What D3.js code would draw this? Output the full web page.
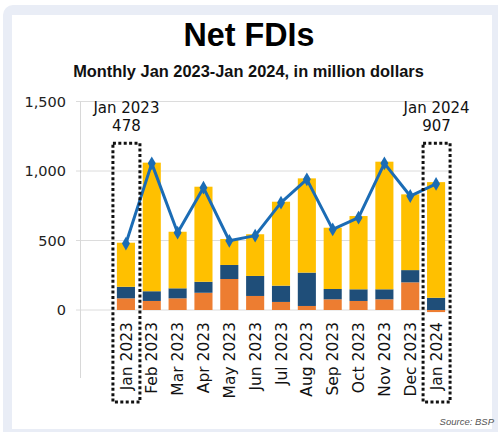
<!DOCTYPE html>
<html>
<head>
<meta charset="utf-8">
<script src="https://cdn.jsdelivr.net/npm/d3@7"></script>
<style>
  html, body { margin: 0; padding: 0; background: #ffffff; }
  svg { display: block; }
</style>
</head>
<body>
<svg id="chart" width="498" height="432"></svg>
<script>
// ---- Data (million US dollars) ----
const months = ["Jan 2023","Feb 2023","Mar 2023","Apr 2023","May 2023","Jun 2023","Jul 2023","Aug 2023","Sep 2023","Oct 2023","Nov 2023","Dec 2023","Jan 2024"];
const equityCapital = [84, 65, 84, 124, 223, 101, 58, 29, 77, 65, 77, 199, -15];
const reinvestedEarnings = [83, 70, 72, 79, 101, 144, 117, 240, 74, 84, 72, 88, 88];
const debtInstruments = [317, 925, 407, 684, 187, 300, 604, 678, 441, 527, 918, 545, 832];
const netFDI = [478, 1055, 556, 880, 498, 535, 772, 940, 580, 664, 1055, 820, 907];
const yTicks = [0, 500, 1000, 1500];
const highlights = [{ month: "Jan 2023", label: "Jan 2023", value: "478" },
                    { month: "Jan 2024", label: "Jan 2024", value: "907" }];

const svg = d3.select("#chart");
const W = 498, H = 432;

// Frame / card
svg.append("rect").attr("x", 3).attr("y", 5).attr("width", W + 10).attr("height", H + 10)
  .attr("rx", 10).attr("fill", "#e9edf6");
svg.append("rect").attr("x", 12).attr("y", 15).attr("width", 480).attr("height", 414)
  .attr("fill", "#ffffff");

// Titles
function fitText(sel, target) {
  const len = sel.node().getComputedTextLength();
  const fs = parseFloat(sel.attr("font-size"));
  sel.attr("font-size", fs * target / len);
}
const title = svg.append("text").attr("x", 249).attr("y", 46).attr("text-anchor", "middle")
  .attr("font-family", "Liberation Sans, Arial, sans-serif").attr("font-weight", "bold")
  .attr("font-size", 30).attr("fill", "#000").text("Net FDIs");
fitText(title, 131);
const sub = svg.append("text").attr("x", 248.5).attr("y", 77).attr("text-anchor", "middle")
  .attr("font-family", "Liberation Sans, Arial, sans-serif").attr("font-weight", "bold")
  .attr("font-size", 15).attr("fill", "#111").text("Monthly Jan 2023-Jan 2024, in million dollars");
fitText(sub, 351);

// Scales
const x = d3.scaleBand().domain(months).range([113, 449]).paddingInner(0.3).paddingOuter(0.15);
const y = d3.scaleLinear().domain([0, 1500]).range([310, 101.5]);

const tickFont = "DejaVu Sans, Verdana, sans-serif";

// Gridlines
svg.append("g").selectAll("line").data(yTicks).join("line")
  .attr("x1", 76).attr("x2", 452)
  .attr("y1", d => y(d)).attr("y2", d => y(d))
  .attr("stroke", "#dcdcdc").attr("stroke-width", 1);
// Axis line
svg.append("line").attr("x1", 80.5).attr("x2", 80.5).attr("y1", y(1500)).attr("y2", 378)
  .attr("stroke", "#d8d8d8").attr("stroke-width", 1);

// Y axis labels
const yAxis = d3.axisLeft(y).tickValues(yTicks).tickFormat(d3.format(",")).tickSize(0).tickPadding(0);
const gy = svg.append("g").attr("transform", "translate(66,0)").call(yAxis);
gy.select(".domain").remove();
gy.selectAll("text").attr("font-family", tickFont).attr("font-size", 14.5).attr("fill", "#222");

// Stacked bars
const rows = months.map((m, i) => ({ month: m, equity: equityCapital[i], reinvest: reinvestedEarnings[i], debt: debtInstruments[i] }));
const keys = ["equity", "reinvest", "debt"];
const colors = { equity: "#ed7d31", reinvest: "#1f4e79", debt: "#ffc000" };
const stack = d3.stack().keys(keys).offset(d3.stackOffsetDiverging)(rows);
svg.append("g").selectAll("g").data(stack).join("g")
  .attr("fill", d => colors[d.key])
  .selectAll("rect").data(d => d).join("rect")
  .attr("x", d => x(d.data.month))
  .attr("width", x.bandwidth())
  .attr("y", d => y(Math.max(d[0], d[1])))
  .attr("height", d => Math.abs(y(d[0]) - y(d[1])));

// Line
const cx = m => x(m) + x.bandwidth() / 2;
const line = d3.line().x((d, i) => cx(months[i])).y(d => y(d));
svg.append("path").datum(netFDI).attr("d", line)
  .attr("fill", "none").attr("stroke", "#1b6cb5").attr("stroke-width", 3).attr("stroke-linejoin", "round");
svg.append("g").selectAll("path").data(netFDI).join("path")
  .attr("d", d3.symbol().type(d3.symbolDiamond).size(55))
  .attr("transform", (d, i) => `translate(${cx(months[i])},${y(d)})`)
  .attr("fill", "#1b6cb5");

// X axis labels (rotated)
svg.append("g").selectAll("text").data(months).join("text")
  .attr("transform", d => `translate(${cx(d)},322) rotate(-90)`)
  .attr("text-anchor", "end").attr("dy", "0.36em")
  .attr("font-family", tickFont).attr("font-size", 15.5).attr("fill", "#111")
  .text(d => d);

// Highlight boxes & annotations
highlights.forEach(h => {
  const c = cx(h.month) + 0.5;
  svg.append("rect").attr("x", c - 13.5).attr("y", y(1200)).attr("width", 27)
    .attr("height", 402 - y(1200))
    .attr("fill", "none").attr("stroke", "#111").attr("stroke-width", 3)
    .attr("stroke-dasharray", "3 2.4");
  svg.append("text").attr("x", c).attr("y", 113).attr("text-anchor", "middle")
    .attr("font-family", tickFont).attr("font-size", 15).attr("fill", "#111").text(h.label);
  svg.append("text").attr("x", c).attr("y", 131).attr("text-anchor", "middle")
    .attr("font-family", tickFont).attr("font-size", 15).attr("fill", "#111").text(h.value);
});

// Source
svg.append("text").attr("x", 494).attr("y", 425).attr("text-anchor", "end")
  .attr("font-family", "Liberation Sans, Arial, sans-serif").attr("font-style", "italic")
  .attr("font-size", 9.5).attr("fill", "#555").text("Source: BSP");
</script>
</body>
</html>
